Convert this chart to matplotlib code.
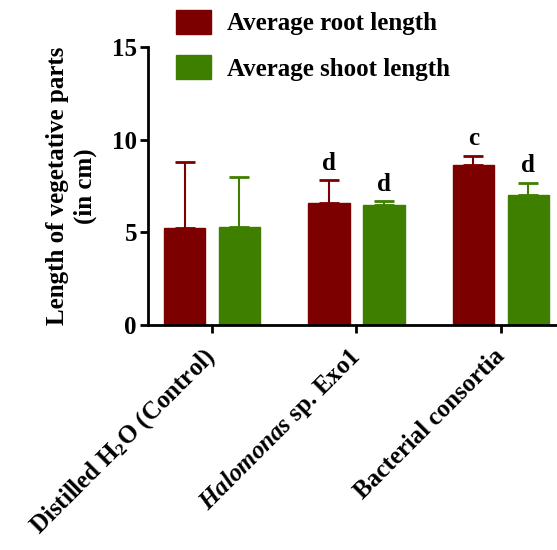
import matplotlib
matplotlib.use("Agg")
import matplotlib.pyplot as plt
from matplotlib.patches import Patch
import numpy as np

plt.rcParams['font.family'] = ['Liberation Serif', 'DejaVu Serif']
plt.rcParams['font.weight'] = 'bold'
plt.rcParams['mathtext.fontset'] = 'custom'
plt.rcParams['mathtext.rm'] = 'Liberation Serif:bold'
plt.rcParams['mathtext.bf'] = 'Liberation Serif:bold'
plt.rcParams['mathtext.it'] = 'Liberation Serif:italic:bold'

categories = [r'Distilled H$_2$O (Control)',
              r'$\mathit{Halomonas}$ sp. Exo1',
              'Bacterial consortia']
series_names = ['Average root length', 'Average shoot length']
root_mean = [5.23, 6.58, 8.61]
root_err = [3.54, 1.22, 0.52]
shoot_mean = [5.27, 6.50, 7.04]
shoot_err = [2.69, 0.17, 0.62]
root_marks = ['', 'd', 'c']
shoot_marks = ['', 'd', 'd']
yticks = [0, 5, 10, 15]

red = '#7d0000'
green = '#3f7f00'

fig = plt.figure(figsize=(5.57, 5.5), dpi=100)
ax = fig.add_axes([148 / 557, 1 - 325 / 550, 1 - 148 / 557, (325 - 47) / 550])

x = np.arange(len(categories))
off = 0.19
w = 0.285
fs = 18

for vals, errs, marks, col, sign in [(root_mean, root_err, root_marks, red, -1),
                                     (shoot_mean, shoot_err, shoot_marks, green, 1)]:
    pos = x + sign * off
    ax.bar(pos, vals, width=w, color=col, edgecolor=col, zorder=2)
    ax.errorbar(pos, vals, yerr=[np.zeros(len(vals)), errs], fmt='none',
                ecolor=col, elinewidth=1.5, capsize=7.5, capthick=2, zorder=1)
    for p, v, e, m in zip(pos, vals, errs, marks):
        if m:
            ax.text(p, v + e + 0.3, m, ha='center', va='bottom',
                    fontsize=fs, fontweight='bold')

ax.set_xlim(-0.443, 2.388)
ax.set_ylim(0, 15)
ax.set_yticks(yticks)
ax.set_yticklabels([str(t) for t in yticks], fontsize=fs, fontweight='bold')
ax.set_xticks(x)
ax.set_xticklabels(categories, rotation=45, ha='right', va='center',
                   fontsize=fs, fontweight='bold', rotation_mode='anchor')

for s in ['top', 'right']:
    ax.spines[s].set_visible(False)
for s in ['left', 'bottom']:
    ax.spines[s].set_linewidth(2)
ax.tick_params(axis='both', width=2, length=6, pad=2)
ax.tick_params(axis='x', pad=14)

ax.set_ylabel('Length of vegetative parts\n(in cm)', fontsize=fs,
              fontweight='bold', linespacing=1.25)
ax.yaxis.set_label_coords(-0.125, 0.5)

handles = [Patch(facecolor=red, edgecolor=red), Patch(facecolor=green, edgecolor=green)]
fig.legend(handles, series_names, loc='upper left',
           bbox_to_anchor=(176 / 557, 1 - 10 / 550), frameon=False,
           prop={'size': fs, 'weight': 'bold'}, handlelength=1.4,
           handleheight=1.08, handletextpad=0.64, labelspacing=0.8,
           borderpad=0, borderaxespad=0)

fig.savefig('out.png', dpi=100)
